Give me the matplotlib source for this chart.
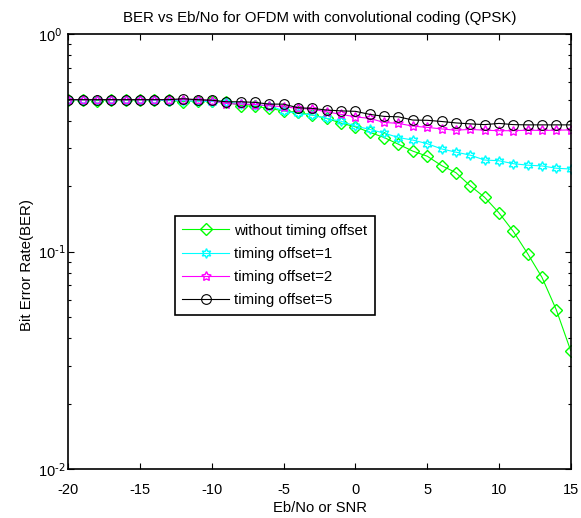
import numpy as np
import matplotlib
matplotlib.use("Agg")
import matplotlib.pyplot as plt
from matplotlib.ticker import LogLocator, NullFormatter, FixedLocator, FuncFormatter

plt.rcParams['font.family'] = ['Liberation Sans', 'DejaVu Sans']
plt.rcParams['axes.unicode_minus'] = False
plt.rcParams['mathtext.default'] = 'regular'

snr = list(range(-20, 16))

ber_no_offset = [0.50, 0.50, 0.495, 0.50, 0.498, 0.50, 0.50, 0.497, 0.49, 0.495,
                 0.495, 0.488, 0.47, 0.466, 0.456, 0.444, 0.437, 0.425, 0.41, 0.39,
                 0.375, 0.354, 0.335, 0.312, 0.29, 0.275, 0.249, 0.231, 0.201, 0.178,
                 0.151, 0.124, 0.098, 0.0762, 0.054, 0.0351]
ber_offset1 = [0.50, 0.50, 0.50, 0.50, 0.50, 0.50, 0.498, 0.495, 0.495, 0.492,
               0.49, 0.486, 0.48, 0.472, 0.469, 0.445, 0.432, 0.425, 0.41, 0.398,
               0.378, 0.365, 0.351, 0.335, 0.326, 0.314, 0.297, 0.287, 0.278, 0.264,
               0.262, 0.254, 0.25, 0.248, 0.242, 0.24]
ber_offset2 = [0.50, 0.50, 0.50, 0.50, 0.50, 0.50, 0.50, 0.50, 0.50, 0.50,
               0.495, 0.48, 0.477, 0.475, 0.469, 0.464, 0.456, 0.452, 0.44, 0.428,
               0.417, 0.41, 0.393, 0.389, 0.378, 0.373, 0.367, 0.362, 0.365, 0.362,
               0.36, 0.36, 0.362, 0.361, 0.362, 0.363]
ber_offset5 = [0.50, 0.50, 0.50, 0.50, 0.50, 0.50, 0.50, 0.50, 0.505, 0.50,
               0.497, 0.489, 0.489, 0.486, 0.477, 0.477, 0.459, 0.456, 0.448, 0.444,
               0.442, 0.428, 0.419, 0.417, 0.403, 0.402, 0.397, 0.391, 0.387, 0.384,
               0.389, 0.384, 0.383, 0.383, 0.383, 0.383]

labels = ['without timing offset', 'timing offset=1', 'timing offset=2', 'timing offset=5']
title = 'BER vs Eb/No for OFDM with convolutional coding (QPSK)'
xlabel = 'Eb/No or SNR'
ylabel = 'Bit Error Rate(BER)'
xticks = [-20, -15, -10, -5, 0, 5, 10, 15]

fig = plt.figure(figsize=(5.81, 5.18), dpi=100)
ax = fig.add_axes([0.1176, 0.094, 0.8647, 0.840])

hexagram = (6, 1, 0)
pentagram = (5, 1, 0)

ax.semilogy(snr, ber_no_offset, color='#00ff00', marker='D', ms=6, mfc='none',
            mew=1.0, lw=0.8, label=labels[0])
ax.semilogy(snr, ber_offset1, color='#00ffff', marker=hexagram, ms=7, mfc='none',
            mew=1.0, lw=0.8, label=labels[1])
ax.semilogy(snr, ber_offset2, color='#ff00ff', marker=pentagram, ms=7, mfc='none',
            mew=1.0, lw=0.8, label=labels[2])
ax.semilogy(snr, ber_offset5, color='black', marker='o', ms=7, mfc='none',
            mew=0.8, lw=0.8, label=labels[3])

ax.set_xlim(-20, 15)
ax.set_ylim(1e-2, 1e0)
ax.xaxis.set_major_locator(FixedLocator(xticks))
ax.yaxis.set_major_locator(LogLocator(base=10, numticks=5))
ax.yaxis.set_minor_locator(LogLocator(base=10, subs=np.arange(2, 10), numticks=20))
ax.yaxis.set_minor_formatter(NullFormatter())
ax.yaxis.set_major_formatter(FuncFormatter(
    lambda v, p: '$10^{\\text{%d}}$' % int(round(np.log10(v)))))

ax.tick_params(which='both', direction='in', top=True, right=True, labelsize=10.5,
               width=0.8, colors='black')
ax.tick_params(which='major', length=4)
ax.tick_params(which='minor', length=2.5)
ax.tick_params(axis='x', pad=10)
ax.tick_params(axis='y', pad=21.8)
for lab in ax.get_yticklabels():
    lab.set_horizontalalignment('left')
for s in ax.spines.values():
    s.set_linewidth(1.2)

ax.set_title(title, fontsize=10.8, pad=9)
ax.set_xlabel(xlabel, fontsize=10.6, labelpad=3)
ax.set_ylabel(ylabel, fontsize=10.8)
ax.yaxis.set_label_coords(-0.068, 0.47)

leg = ax.legend(loc='upper left', bbox_to_anchor=(0.212, 0.582), fontsize=10.8,
                frameon=True, fancybox=False, edgecolor='black', framealpha=1,
                handlelength=3.1, handletextpad=0.35, borderpad=0.5,
                labelspacing=0.62, borderaxespad=0)
leg.get_frame().set_linewidth(1.2)

fig.savefig('out.png', dpi=100, facecolor='white')
